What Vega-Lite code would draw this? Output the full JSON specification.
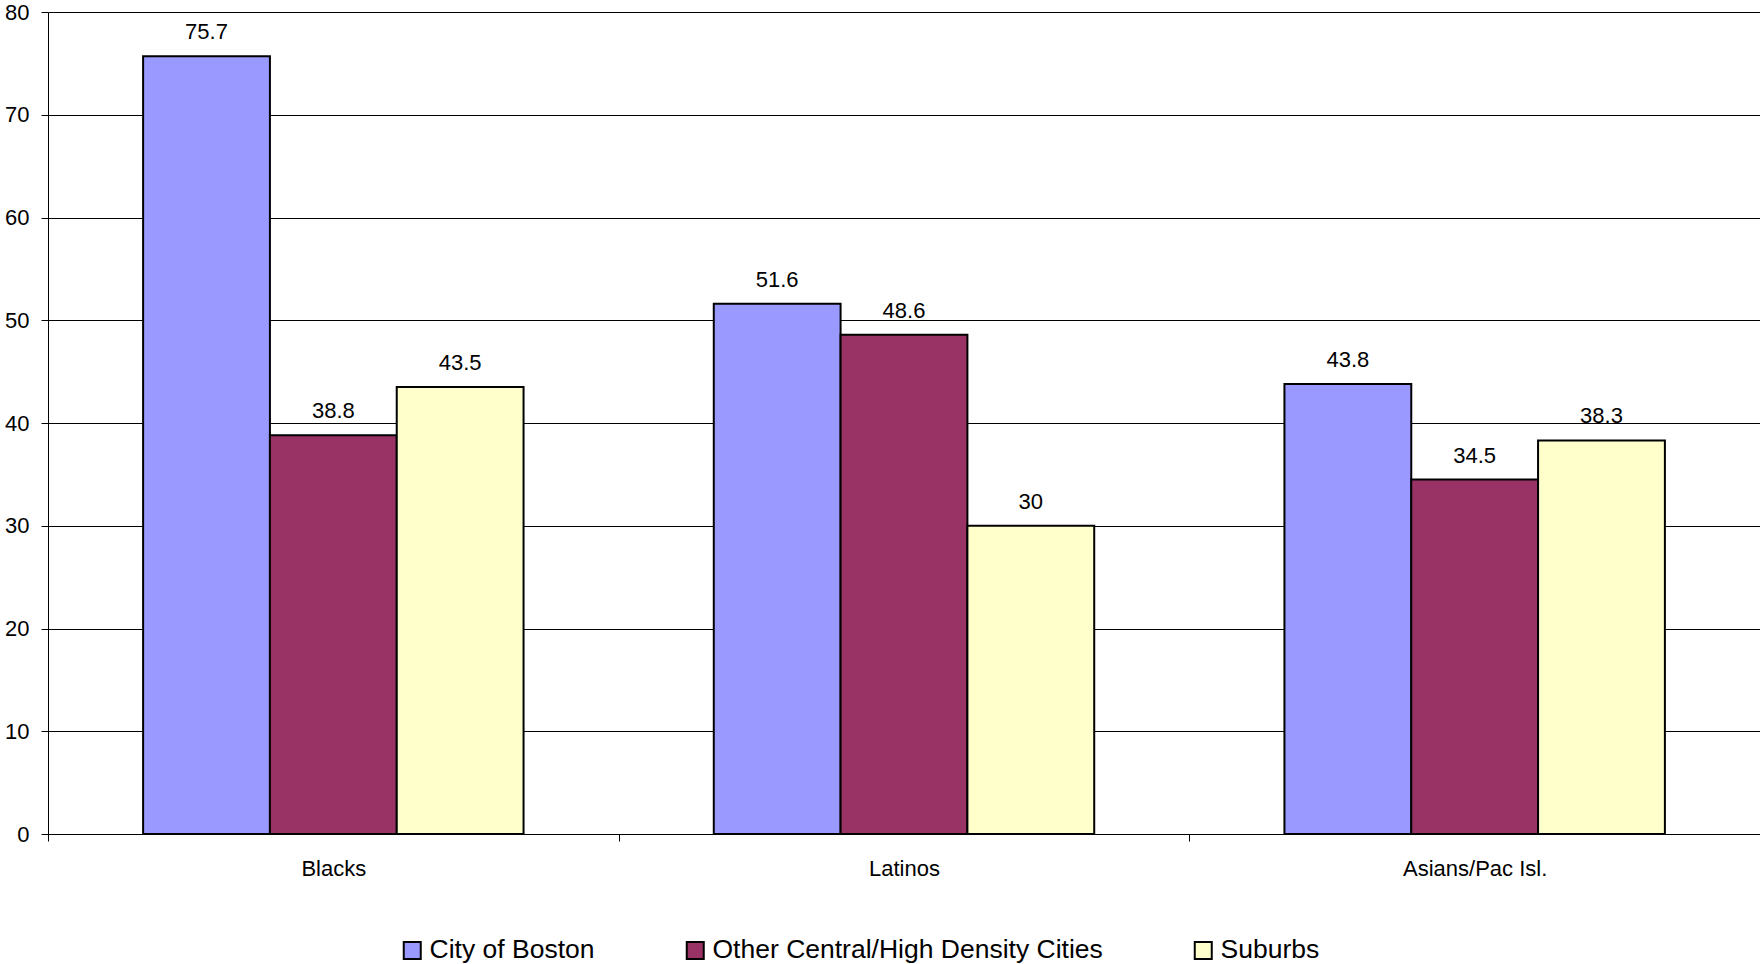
{
  "$schema": "https://vega.github.io/schema/vega-lite/v6.json",
  "width": 1712,
  "height": 822,
  "autosize": {"type": "none"},
  "padding": {"left": 48, "top": 12, "right": 0, "bottom": 130},
  "background": "white",
  "config": {
    "view": {"stroke": null},
    "font": "Liberation Sans",
    "axis": {"labelColor": "#000", "domainColor": "#000", "tickColor": "#000", "labelFont": "Liberation Sans"}
  },
  "data": {
    "values": [
      {"group": "Blacks", "area": "City of Boston", "value": 75.7},
      {"group": "Blacks", "area": "Other Central/High Density Cities", "value": 38.8},
      {"group": "Blacks", "area": "Suburbs", "value": 43.5},
      {"group": "Latinos", "area": "City of Boston", "value": 51.6},
      {"group": "Latinos", "area": "Other Central/High Density Cities", "value": 48.6},
      {"group": "Latinos", "area": "Suburbs", "value": 30},
      {"group": "Asians/Pac Isl.", "area": "City of Boston", "value": 43.8},
      {"group": "Asians/Pac Isl.", "area": "Other Central/High Density Cities", "value": 34.5},
      {"group": "Asians/Pac Isl.", "area": "Suburbs", "value": 38.3}
    ]
  },
  "encoding": {
    "x": {
      "field": "group", "type": "nominal",
      "sort": ["Blacks", "Latinos", "Asians/Pac Isl."],
      "scale": {"paddingInner": 0, "paddingOuter": 0},
      "axis": {"title": null, "labelAngle": 0, "tickBand": "extent", "tickSize": 7, "labelPadding": 17, "labelFontSize": 22, "grid": false, "domainWidth": 1}
    },
    "xOffset": {
      "field": "area", "type": "nominal",
      "sort": ["City of Boston", "Other Central/High Density Cities", "Suburbs"],
      "scale": {"paddingInner": 0, "paddingOuter": 0.75}
    },
    "y": {
      "field": "value", "type": "quantitative",
      "scale": {"domain": [0, 80], "nice": false},
      "axis": {"title": null, "values": [0, 10, 20, 30, 40, 50, 60, 70, 80], "grid": true, "gridColor": "#000", "gridWidth": 1, "tickSize": 7, "labelPadding": 12, "labelFontSize": 22, "domainWidth": 1}
    }
  },
  "layer": [
    {
      "mark": {"type": "bar", "stroke": "#000", "strokeWidth": 2},
      "encoding": {
        "color": {
          "field": "area", "type": "nominal",
          "sort": ["City of Boston", "Other Central/High Density Cities", "Suburbs"],
          "scale": {"domain": ["City of Boston", "Other Central/High Density Cities", "Suburbs"], "range": ["#9999FF", "#993366", "#FFFFCC"]},
          "legend": {
            "title": null, "orient": "none", "direction": "horizontal", "columns": 3,
            "legendX": 351, "legendY": 925, "padding": 0,
            "symbolType": "square", "symbolSize": 289, "symbolStrokeColor": "#000", "symbolStrokeWidth": 2,
            "labelFontSize": 26.5, "labelFont": "Liberation Sans", "labelColor": "#000", "labelOffset": 4,
            "columnPadding": 87, "labelLimit": 600
          }
        }
      }
    },
    {
      "mark": {"type": "text", "dy": -17, "baseline": "alphabetic", "fontSize": 22, "color": "#000"},
      "encoding": {"text": {"field": "value", "type": "quantitative"}}
    }
  ]
}
